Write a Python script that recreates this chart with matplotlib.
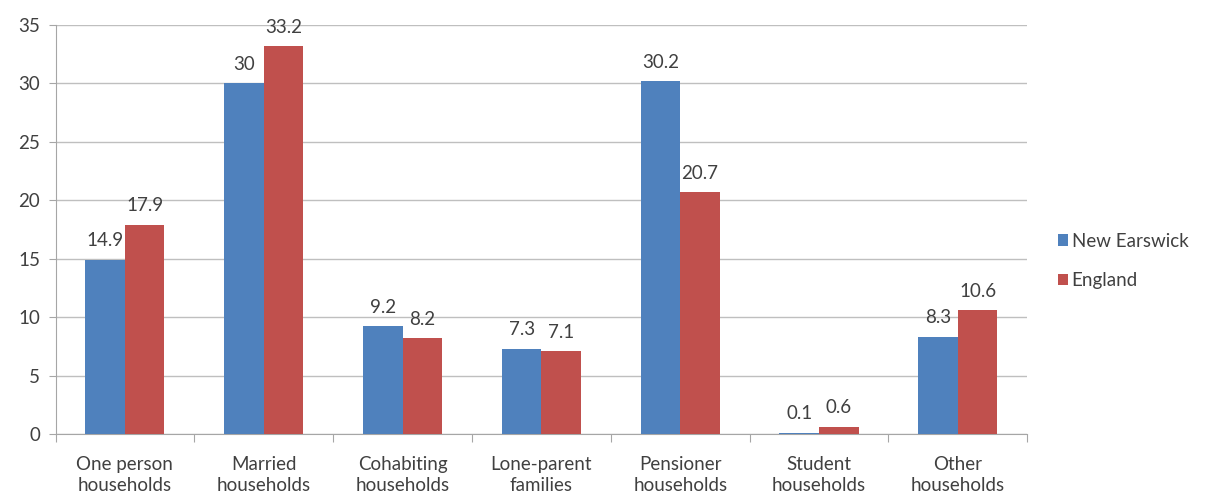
import matplotlib
matplotlib.use("Agg")
import matplotlib.pyplot as plt
import numpy as np

categories = ["One person\nhouseholds", "Married\nhouseholds", "Cohabiting\nhouseholds",
              "Lone-parent\nfamilies", "Pensioner\nhouseholds", "Student\nhouseholds",
              "Other\nhouseholds"]
series_names = ["New Earswick", "England"]
new_earswick = [14.9, 30, 9.2, 7.3, 30.2, 0.1, 8.3]
england = [17.9, 33.2, 8.2, 7.1, 20.7, 0.6, 10.6]
yticks = [0, 5, 10, 15, 20, 25, 30, 35]

plt.rcParams['font.family'] = ['Lato', 'DejaVu Sans']
txt = '#404040'
fs = 13.5
fig = plt.figure(figsize=(12.2, 4.96), dpi=100)
ax = fig.add_axes([0.0455, 0.125, 0.7965, 0.8246])

x = np.arange(len(categories))
w = 0.285
b1 = ax.bar(x - w/2, new_earswick, w, color='#4F81BD', label=series_names[0], zorder=3)
b2 = ax.bar(x + w/2, england, w, color='#C0504D', label=series_names[1], zorder=3)
for bars, vals in ((b1, new_earswick), (b2, england)):
    for r, v in zip(bars, vals):
        ax.text(r.get_x() + r.get_width()/2, v + 0.9, f"{v:g}", ha='center', va='bottom',
                fontsize=fs, color=txt)

ax.set_xlim(-0.5, len(categories) - 0.5)
ax.set_ylim(0, 35)
ax.set_yticks(yticks)
ax.set_yticklabels([str(t) for t in yticks], fontsize=fs, color=txt)
ax.yaxis.grid(True, color='#BFBFBF', linewidth=1, zorder=0)
ax.set_xticks(np.arange(len(categories) + 1) - 0.5)
ax.set_xticklabels([])
ax.set_xticks(x, minor=True)
ax.set_xticklabels(categories, minor=True, fontsize=fs, color=txt, linespacing=1.3)
ax.tick_params(axis='x', which='minor', length=0, pad=16)
ax.tick_params(axis='x', which='major', length=6, color='#A6A6A6')
ax.tick_params(axis='y', length=5, color='#A6A6A6', pad=6)
for s in ['top', 'right']:
    ax.spines[s].set_visible(False)
for s in ['left', 'bottom']:
    ax.spines[s].set_color('#A6A6A6')

fig.legend(handles=[b1, b2], labels=series_names, loc='upper left',
           bbox_to_anchor=(0.853, 0.565), frameon=False, fontsize=fs,
           handlelength=0.55, handleheight=0.55, handletextpad=0.2, labelspacing=1.2,
           labelcolor=txt)

fig.savefig("out.png", dpi=100)
